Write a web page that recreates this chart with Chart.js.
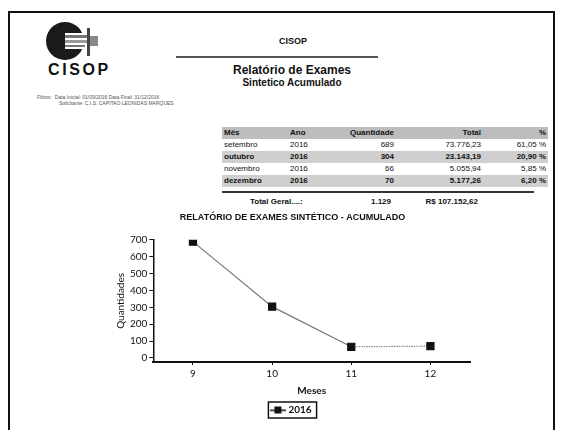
<!DOCTYPE html>
<html>
<head>
<meta charset="utf-8">
<script src="https://cdn.jsdelivr.net/npm/chart.js@4.4.1/dist/chart.umd.min.js"></script>
<style>
  html, body { margin: 0; padding: 0; background: #fff; }
  body { width: 561px; height: 430px; position: relative; overflow: hidden; font-family: "Liberation Sans", Arial, sans-serif; color: #111; }
  .frame { position: absolute; left: 8px; top: 11px; width: 543px; height: 440px; border: 2px solid #111; border-bottom: none; }
  .abs { position: absolute; white-space: nowrap; }
  #tabela { position: absolute; left: 222px; top: 127px; width: 326px; border-collapse: collapse; font-size: 8px; }
  #tabela td, #tabela th { padding: 0 2px; height: 12px; line-height: 12px; font-weight: normal; }
  #tabela th { background: #bdbdbd; font-weight: bold; }
  #tabela tr.alt td { background: #cfcfcf; font-weight: bold; }
  .r { text-align: right; }
  #grafico { position: absolute; left: 86px; top: 205px; }
</style>
</head>
<body>
<div class="frame"></div>

<svg class="abs" style="left:43px;top:20px" width="60" height="44" viewBox="0 0 60 44">
  <circle cx="22" cy="21" r="19" fill="#1a1a1a"/>
  <rect x="22" y="13" width="26" height="16" fill="#fff"/>
  <rect x="22" y="15" width="22" height="3" fill="#777"/>
  <rect x="22" y="20" width="22" height="3" fill="#999"/>
  <rect x="22" y="25" width="20" height="2" fill="#777"/>
  <rect x="44" y="8" width="3" height="28" fill="#444"/>
  <rect x="47" y="16" width="8" height="10" fill="#888"/>
</svg>
<div class="abs" style="left:48px;top:61px;font-size:16px;font-weight:bold;letter-spacing:2.6px;">CISOP</div>
<div class="abs" style="left:37px;top:94px;font-size:5px;color:#555;line-height:6px;">Filtros:&nbsp; Data Inicial: 01/09/2016 Data Final: 31/12/2016<br><span style="padding-left:22px">Solicitante: C.I.S. CAPITAO LEONIDAS MARQUES</span></div>

<div class="abs" style="left:0;width:586px;top:36px;text-align:center;font-size:9px;font-weight:bold;">CISOP</div>
<div class="abs" style="left:176px;top:56px;width:202px;border-top:2px solid #555;"></div>
<div class="abs" style="left:0;width:584px;top:63px;text-align:center;font-size:12px;font-weight:bold;">Relatório de Exames</div>
<div class="abs" style="left:0;width:584px;top:77px;text-align:center;font-size:10px;font-weight:bold;">Sintetico Acumulado</div>

<table id="tabela"></table>
<div class="abs" style="left:222px;top:191px;width:312px;border-top:2px solid #333;"></div>
<div class="abs" style="left:250px;top:197px;font-size:8px;font-weight:bold;">Total Geral....:</div>
<div class="abs" id="totQ" style="left:340px;width:51px;top:197px;text-align:right;font-size:8px;font-weight:bold;"></div>
<div class="abs" id="totV" style="left:400px;width:78px;top:197px;text-align:right;font-size:8px;font-weight:bold;"></div>

<canvas id="grafico" width="410" height="222"></canvas>

<script>
// dados da tabela
const mesesNome = ['setembro', 'outubro', 'novembro', 'dezembro'];
const anos = ['2016', '2016', '2016', '2016'];
const quantidades = [689, 304, 66, 70];
const totais = ['73.776,23', '23.143,19', '5.055,94', '5.177,26'];
const percentuais = ['61,05 %', '20,90 %', '5,85 %', '6,20 %'];
const totalQtd = '1.129';
const totalValor = 'R$ 107.152,62';

// dados do grafico
const meses = ['9', '10', '11', '12'];
const serie = '2016';
const yTicks = [0, 100, 200, 300, 400, 500, 600, 700];

let html = '<tr><th style="text-align:left">Mês</th><th style="text-align:left">Ano</th><th class="r">Quantidade</th><th class="r">Total</th><th class="r">%</th></tr>';
mesesNome.forEach((m, i) => {
    html += '<tr class="' + (i % 2 ? 'alt' : '') + '"><td style="width:62px">' + m + '</td><td style="width:40px">' + anos[i] +
        '</td><td class="r" style="width:60px">' + quantidades[i] + '</td><td class="r" style="width:83px">' + totais[i] +
        '</td><td class="r">' + percentuais[i] + '</td></tr>';
});
document.getElementById('tabela').innerHTML = html;
document.getElementById('totQ').textContent = totalQtd;
document.getElementById('totV').textContent = totalValor;

// icone da legenda: linha com quadrado
const icone = document.createElement('canvas');
icone.width = 16; icone.height = 9;
const ic = icone.getContext('2d');
ic.fillStyle = '#111';
ic.fillRect(0, 4, 16, 1.5);
ic.fillRect(4, 1, 7, 7);

const legendaBorda = {
    id: 'legendaBorda',
    afterDraw(chart) {
        const hb = chart.legend.legendHitBoxes[0];
        if (!hb) return;
        const c = chart.ctx;
        c.save();
        c.strokeStyle = '#111';
        c.lineWidth = 1.5;
        c.strokeRect(hb.left - 5, hb.top - 3, hb.width + 10, hb.height + 6);
        c.restore();
    }
};

const ctx = document.getElementById('grafico');
new Chart(ctx, {
    type: 'line',
    data: {
        labels: meses,
        datasets: [{
            label: serie,
            data: quantidades,
            borderColor: '#777',
            borderWidth: 1.2,
            pointStyle: 'rect',
            pointRadius: 5,
            pointBackgroundColor: '#111',
            pointBorderColor: '#111',
            tension: 0,
            segment: {
                borderDash: c => c.p0DataIndex === 2 ? [1.5, 1] : undefined,
                borderColor: c => c.p0DataIndex === 2 ? '#888' : undefined
            }
        }]
    },
    options: {
        responsive: false,
        animation: false,
        layout: { padding: { left: 29, right: 26, top: 0, bottom: 2 } },
        plugins: {
            title: {
                display: true,
                text: 'RELATÓRIO DE EXAMES SINTÉTICO - ACUMULADO',
                color: '#111',
                font: { family: 'Liberation Sans', size: 9, weight: 'bold' },
                padding: { top: 7, bottom: 17 }
            },
            legend: {
                position: 'bottom',
                labels: {
                    usePointStyle: true,
                    color: '#111',
                    font: { family: 'Lato', size: 10, weight: 'bold' },
                    generateLabels: chart => chart.data.datasets.map((ds, i) => ({
                        text: ds.label, pointStyle: icone, datasetIndex: i,
                        fontColor: '#111', lineWidth: 0
                    })),
                    padding: 6
                }
            },
            tooltip: { enabled: false }
        },
        scales: {
            x: {
                offset: true,
                border: { color: '#111', width: 2 },
                grid: { drawOnChartArea: false, drawTicks: true, tickLength: 3, color: '#111' },
                ticks: { color: '#111', font: { family: 'Lato', size: 10 }, padding: 3 },
                title: { display: true, text: 'Meses', color: '#111', font: { family: 'Lato', size: 10, weight: 'bold' }, padding: { top: 2, bottom: 2 } }
            },
            y: {
                min: -24,
                max: 700,
                afterBuildTicks: s => { s.ticks = yTicks.map(v => ({ value: v })); },
                border: { color: '#111', width: 1.5 },
                grid: { drawOnChartArea: false, drawTicks: true, tickLength: 4, color: '#111' },
                ticks: { color: '#111', font: { family: 'Lato', size: 10 }, padding: 2 },
                title: { display: true, text: 'Quantidades', color: '#111', font: { family: 'Lato', size: 10 }, padding: { top: 0, bottom: 1 } }
            }
        }
    },
    plugins: [legendaBorda]
});
</script>
</body>
</html>
